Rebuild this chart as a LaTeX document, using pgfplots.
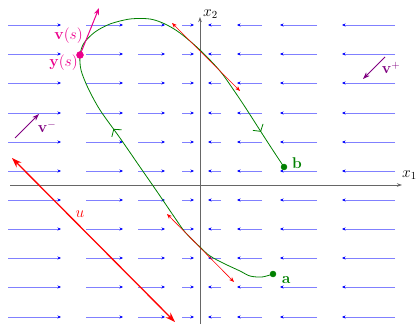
\documentclass[border=0pt]{standalone}
\usepackage{pgfplots}
\pgfplotsset{compat=1.18}
\usepackage{pgfplotstable}
\usetikzlibrary{arrows.meta,decorations.markings}
\definecolor{dgreen}{RGB}{0,128,0}
\definecolor{purp}{RGB}{128,0,128}
\newcommand{\lbl}{\Large}
\tikzset{lb/.style={scale=1.08}}
\pgfplotstableread{
x y u
-192 160 53
-114 160 37
-62 160 27
-18 160 12
21 160 -13
62 160 -25
117 160 -37
195 160 -53
-192 131 53
-114 131 37
-62 131 27
-18 131 12
21 131 -13
62 131 -25
117 131 -37
195 131 -53
-192 102 53
-114 102 37
-62 102 27
-18 102 12
21 102 -13
62 102 -25
117 102 -37
195 102 -53
-192 72 53
-114 72 37
-62 72 27
-18 72 12
21 72 -13
62 72 -25
117 72 -37
195 72 -53
-192 43 53
-114 43 37
-62 43 27
-18 43 12
21 43 -13
62 43 -25
117 43 -37
195 43 -53
-192 14 53
-114 14 37
-62 14 27
-18 14 12
21 14 -13
62 14 -25
117 14 -37
195 14 -53
-192 -15 53
-114 -15 37
-62 -15 27
-18 -15 12
21 -15 -13
62 -15 -25
117 -15 -37
195 -15 -53
-192 -44 53
-114 -44 37
-62 -44 27
-18 -44 12
21 -44 -13
62 -44 -25
117 -44 -37
195 -44 -53
-192 -73 53
-114 -73 37
-62 -73 27
-18 -73 12
21 -73 -13
62 -73 -25
117 -73 -37
195 -73 -53
-192 -102 53
-114 -102 37
-62 -102 27
-18 -102 12
21 -102 -13
62 -102 -25
117 -102 -37
195 -102 -53
-192 -132 53
-114 -132 37
-62 -132 27
-18 -132 12
21 -132 -13
62 -132 -25
117 -132 -37
195 -132 -53
}\field
\begin{document}
\begin{tikzpicture}
\begin{axis}[scale only axis, width=417pt, height=324pt,
  xmin=-200, xmax=217, ymin=-139, ymax=185,
  axis lines=none, clip=false, anchor=south west, at={(0,0)}]
% vector field
\addplot[blue!50, line width=0.5pt, -{Stealth[length=3.5pt,width=3pt,color=blue]},
  quiver={u=\thisrow{u}, v=0}] table[x=x,y=y] {\field};
% axes
\addplot[black!60, line width=0.8pt, -{Stealth[length=5pt,width=3.5pt]}] coordinates {(-190,0) (202,0)};
\addplot[black!60, line width=0.8pt, -{Stealth[length=5pt,width=3.5pt]}] coordinates {(0,-139) (0,168)};
\node[lb, anchor=west, inner sep=0pt] at (axis cs:202,10) {\lbl $x_1$};
\node[lb, anchor=west, inner sep=0pt] at (axis cs:3,171) {\lbl $x_2$};
% big u arrow
\addplot[red, line width=1.3pt, {Stealth[length=10pt,width=7pt]}-{Stealth[length=10pt,width=7pt]}] coordinates {(-188,27) (-25,-137)};
\node[lb, red] at (axis cs:-120,-29) {\lbl $u$};
% trajectory
\addplot[dgreen, line width=0.8pt, smooth, postaction={decorate},
  decoration={markings,
    mark=at position 0.38 with {\arrow{Straight Barb[length=5pt,width=12pt,line width=0.8pt]}},
    mark=at position 0.93 with {\arrow{Straight Barb[length=5pt,width=12pt,line width=0.8pt]}}}]
  coordinates {(73,-89) (62,-92) (50,-91) (40,-86) (25,-79) (10,-71) (0,-62) (-15,-47) (-25,-33) (-42,-8) (-60,18) (-80,47) (-100,75) (-112,97) (-119,115) (-120,130) (-116,142) (-105,153) (-90,161) (-70,166) (-50,166) (-35,161) (-20,152) (0,135) (20,114) (35,93) (47,75) (63,50) (76,30) (84,18)};
% tangent arrows
\addplot[red, line width=0.6pt, {Stealth[length=5pt,width=4pt]}-{Stealth[length=5pt,width=4pt]}] coordinates {(-28,162) (40,94)};
\addplot[red, line width=0.6pt, {Stealth[length=5pt,width=4pt]}-{Stealth[length=5pt,width=4pt]}] coordinates {(-33,-29) (34,-97)};
% endpoints
\addplot[only marks, mark=*, mark size=3pt, dgreen] coordinates {(84,18) (73,-89)};
\node[lb, dgreen] at (axis cs:97,22) {\lbl $\mathbf{b}$};
\node[lb, dgreen] at (axis cs:86,-95) {\lbl $\mathbf{a}$};
% y(s), v(s)
\addplot[magenta, line width=1pt, -{Stealth[length=7pt,width=5pt]}] coordinates {(-120,130) (-101,177)};
\addplot[only marks, mark=*, mark size=3.5pt, magenta] coordinates {(-120,130)};
\node[lb, magenta, anchor=east, inner sep=0pt] at (axis cs:-117,149) {\lbl $\mathbf{v}(s)$};
\node[lb, magenta, anchor=east, inner sep=0pt] at (axis cs:-122,122) {\lbl $\mathbf{y}(s)$};
% v+ and v-
\addplot[purp, line width=1pt, -{Stealth[length=7pt,width=5pt]}] coordinates {(185,128) (163,106)};
\node[lb, purp] at (axis cs:191,117) {\lbl $\mathbf{v}^+$};
\addplot[purp, line width=1pt, -{Stealth[length=7pt,width=5pt]}] coordinates {(-185,47) (-161,71)};
\node[lb, purp] at (axis cs:-153,58) {\lbl $\mathbf{v}^-$};
\end{axis}
\pgfresetboundingbox
\path[use as bounding box] (0,0) rectangle (417pt,324pt);
\end{tikzpicture}
\end{document}
